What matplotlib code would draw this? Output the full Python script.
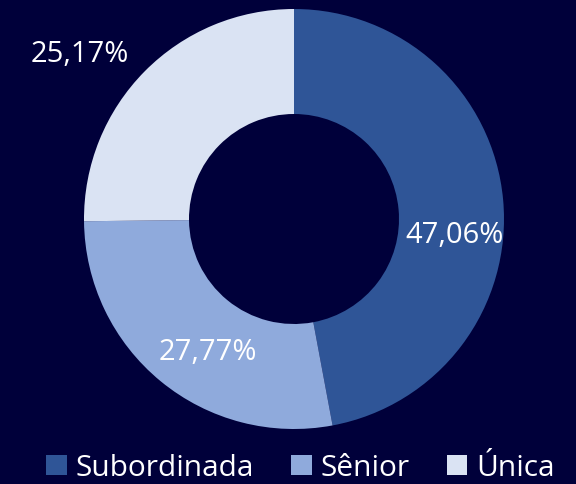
import matplotlib.pyplot as plt
from matplotlib.patches import Patch

labels = ['Subordinada', 'Sênior', 'Única']
values = [47.06, 27.77, 25.17]
colors = ['#2f5597', '#8faadc', '#dae3f3']
bg = '#00003a'

plt.rcParams['font.family'] = ['Open Sans', 'DejaVu Sans']

fig = plt.figure(figsize=(5.76, 4.85), dpi=100, facecolor=bg)
ax = fig.add_axes([0, 0, 1, 1])
ax.set_facecolor(bg)
ax.set_xlim(0, 576)
ax.set_ylim(0, 485)
ax.set_aspect('equal')
ax.axis('off')

cx, cy, R = 294, 265, 210
wedges, _ = ax.pie(values, colors=colors, startangle=90, counterclock=False,
                   center=(cx, cy), radius=R,
                   wedgeprops=dict(width=R * 0.5, edgecolor='none'))
ax.set_xlim(0, 576)
ax.set_ylim(0, 485)

# label positions (Excel-style placement)
label_pos = [(455, 249), (208, 133), (80, 430)]
for v, (x, y) in zip(values, label_pos):
    ax.text(x, y, f'{v:.2f}%'.replace('.', ','), color='white', fontsize=21,
            ha='center', va='center')

handles = [Patch(facecolor=c, edgecolor='none') for c in colors]
fig.legend(handles, labels, loc='lower center', bbox_to_anchor=(0.522, -0.052),
           ncol=3, frameon=False, fontsize=21.5, labelcolor='white',
           handlelength=0.68, handleheight=0.68, handletextpad=0.3,
           columnspacing=1.25)

fig.savefig('out.png', dpi=100, facecolor=bg)
